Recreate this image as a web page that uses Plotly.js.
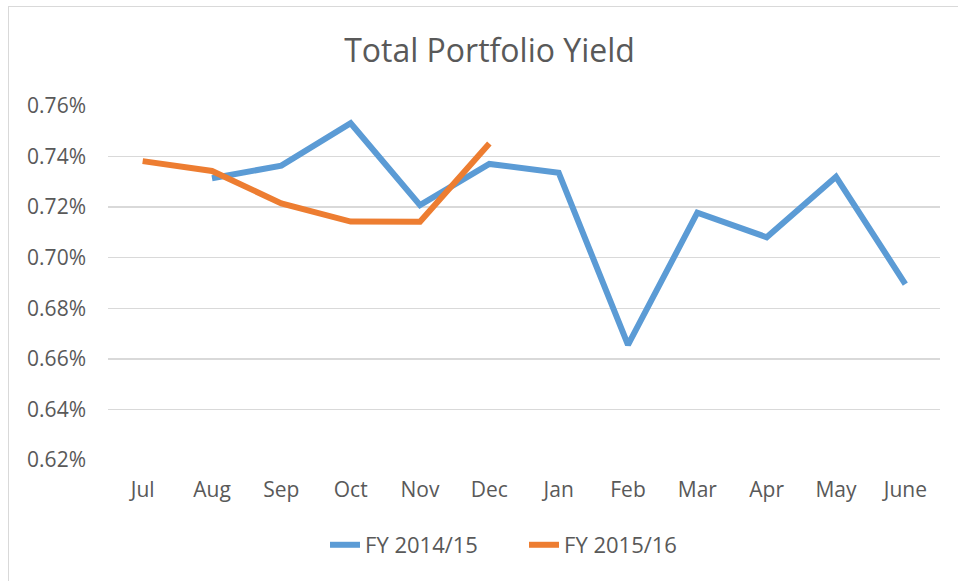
<!DOCTYPE html>
<html>
<head>
<meta charset="utf-8">
<script src="https://cdn.plot.ly/plotly-3.0.1.min.js"></script>
<style>
html,body{margin:0;padding:0;background:#fff;}
#wrap{position:relative;width:958px;height:581px;}
#chart{position:absolute;left:0;top:0;width:958px;height:581px;}
#frame{position:absolute;left:8px;top:6px;width:980px;height:600px;border-left:1px solid #d9d9d9;border-top:1px solid #d9d9d9;pointer-events:none;}
</style>
</head>
<body>
<div id="wrap"><div id="chart"></div><div id="frame"></div></div>
<script>
const months = ["Jul","Aug","Sep","Oct","Nov","Dec","Jan","Feb","Mar","Apr","May","June"];
const fy1415 = [null,0.7314,0.7364,0.7532,0.7208,0.7371,0.7336,0.6655,0.7178,0.7081,0.7320,0.6896];
const fy1516 = [0.7382,0.7343,0.7215,0.7143,0.7142,0.7452];
const seriesNames = ["FY 2014/15","FY 2015/16"];
const yTicks = [0.62,0.64,0.66,0.68,0.70,0.72,0.74,0.76];

const font = "Open Sans, Noto Sans, sans-serif";
const txt = "#595959";

const traces = [
  {x: months, y: fy1415, name: seriesNames[0], type: "scatter", mode: "lines",
   line: {color: "#5b9bd5", width: 6, shape: "linear"}, connectgaps: false},
  {x: months.slice(0, fy1516.length), y: fy1516, name: seriesNames[1], type: "scatter", mode: "lines",
   line: {color: "#ed7d31", width: 6, shape: "linear"}}
];

const layout = {
  width: 958, height: 581,
  paper_bgcolor: "rgba(0,0,0,0)", plot_bgcolor: "#fff",
  margin: {l: 108, r: 18, t: 106, b: 121},
  font: {family: font, color: txt, size: 21},
  title: {text: "Total Portfolio Yield", font: {family: font, size: 32, color: txt},
          x: 0.511, xref: "container", y: 0.912, yref: "container", xanchor: "center", yanchor: "middle"},
  xaxis: {type: "category", categoryorder: "array", categoryarray: months,
          range: [-0.5, 11.5], showgrid: false, zeroline: false, showline: false,
          ticks: "", ticklabelstandoff: 15, tickfont: {family: font, size: 21, color: txt}, fixedrange: true},
  yaxis: {range: [0.62, 0.76], tickvals: yTicks, ticktext: yTicks.map(v => v.toFixed(2) + "%"),
          showgrid: true, gridcolor: "#d9d9d9", gridwidth: 1.3, zeroline: false, showline: false,
          ticks: "", ticklabelstandoff: 21, tickfont: {family: font, size: 21, color: txt}, fixedrange: true},
  showlegend: true,
  legend: {orientation: "h", x: 0.547, xanchor: "center", xref: "container", y: 0.062, yref: "container", yanchor: "middle",
           font: {family: font, size: 22, color: txt}, entrywidth: 154, entrywidthmode: "pixels", tracegroupgap: 0},
  hovermode: false
};

Plotly.newPlot("chart", traces, layout, {displayModeBar: false, staticPlot: true});
</script>
</body>
</html>
